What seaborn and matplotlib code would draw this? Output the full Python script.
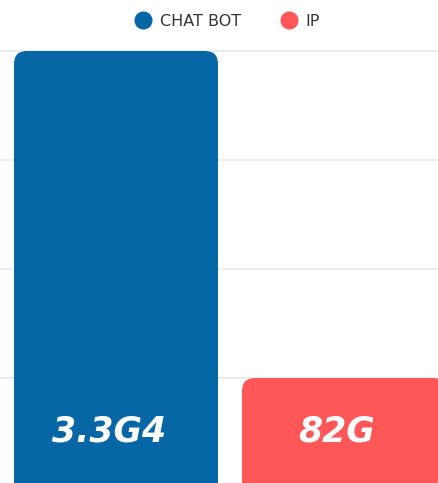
import matplotlib
matplotlib.use("Agg")
import matplotlib.pyplot as plt
from matplotlib.patches import FancyBboxPatch
from matplotlib.lines import Line2D
import seaborn as sns
import pandas as pd

# Data
categories = ["CHAT BOT", "IP"]
values = [4.0, 1.0]
value_labels = ["3.3G4", "82G"]
colors = ["#0766a6", "#ff5757"]

df = pd.DataFrame({"category": categories, "value": values})

sns.set_theme(style="white")
plt.rcParams["font.family"] = ["DejaVu Sans"]

W, H, DPI = 438, 483, 100
fig = plt.figure(figsize=(W / DPI, H / DPI), dpi=DPI)
base_px = 487  # baseline sits just under the lower edge
ax = fig.add_axes([0, 1 - base_px / H, 1, base_px / H])

px_per_x = 228.0
px_per_y = 109.0
bar_w = 204.0 / px_per_x

sns.barplot(data=df, x="category", y="value", hue="category",
            palette=colors, width=bar_w, legend=False, ax=ax,
            saturation=1, zorder=2)

x_left = -116.0 / px_per_x
ax.set_xlim(x_left, x_left + W / px_per_x)
ax.set_ylim(0, base_px / px_per_y)

# Swap the plain rectangles for ones with rounded top corners
# (the lower part runs past the axes edge and is clipped)
aspect = px_per_x / px_per_y
extra = 0.5
for patch in list(ax.patches):
    x0, y0 = patch.get_x(), patch.get_y()
    w, h = patch.get_width(), patch.get_height()
    fc = patch.get_facecolor()
    patch.remove()
    ax.add_patch(FancyBboxPatch((x0, y0 - extra), w, h + extra,
                                boxstyle=f"round,pad=0,rounding_size={13 / px_per_x}",
                                mutation_aspect=aspect, facecolor=fc,
                                edgecolor="none", zorder=2, clip_on=True))

ax.set_yticks([1, 2, 3, 4])
ax.yaxis.grid(True, color="#ececec", linewidth=1.5, zorder=0)
ax.set_axisbelow(True)
ax.tick_params(left=False, bottom=False, labelleft=False, labelbottom=False)
for s in ax.spines.values():
    s.set_visible(False)
ax.set_xlabel("")
ax.set_ylabel("")

# Value labels inside the bars
label_y = (base_px - 431) / px_per_y
label_dx = -7 / px_per_x
for i, lab in enumerate(value_labels):
    ax.text(i + label_dx, label_y, lab, ha="center", va="center", color="white",
            fontsize=25, fontweight="bold", fontstyle="oblique",
            family="DejaVu Sans", zorder=3)

# Legend row above the plot
legend_y = 1 - 20 / H
marker_x = [142.5, 289]
text_x = [160, 305]
for c, name, mx, tx in zip(colors, categories, marker_x, text_x):
    fig.add_artist(Line2D([mx / W], [legend_y], transform=fig.transFigure,
                          marker="o", linestyle="none", markersize=12,
                          markerfacecolor=c, markeredgecolor=c))
    fig.text(tx / W, legend_y, name, ha="left", va="center_baseline",
             fontsize=11.5, color="#333333")

fig.savefig("out.png", dpi=DPI)
